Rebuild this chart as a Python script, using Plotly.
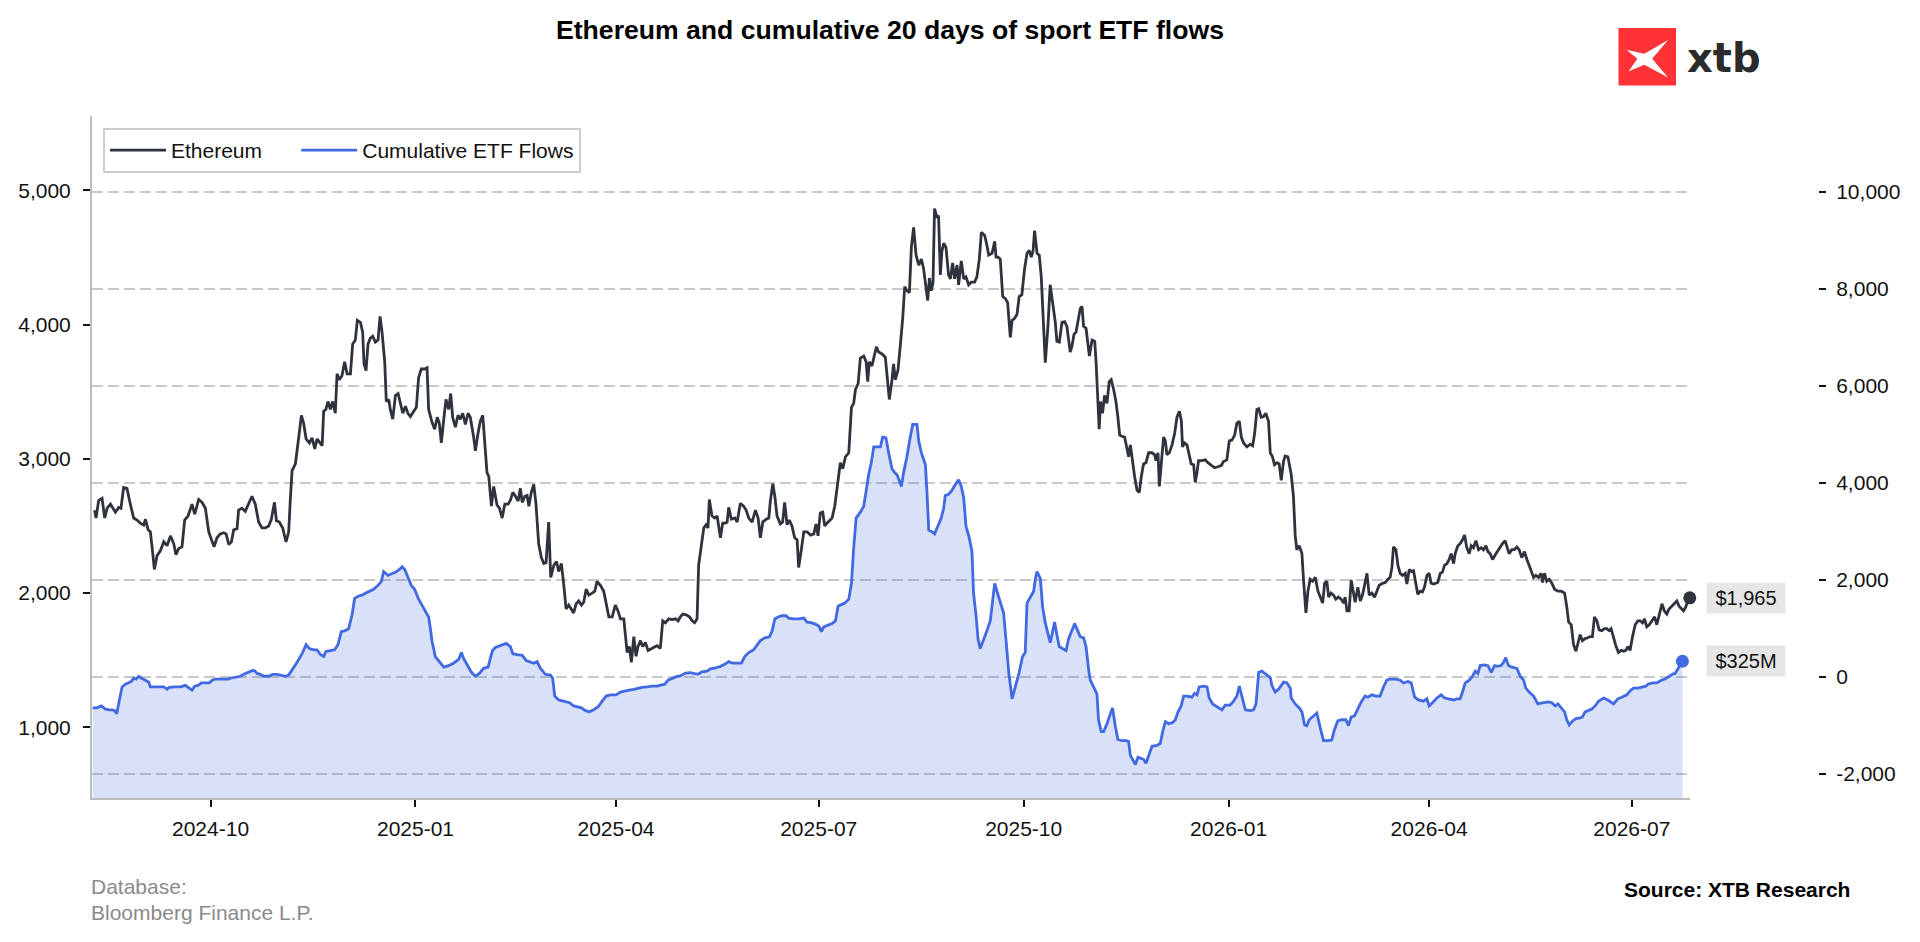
import pandas as pd
import plotly.graph_objects as go

# ---------------- data ----------------
BASE_DATE = "2024-08-08"   # day 0 of the day offsets below

eth_day = [2.0, 2.6, 3.8, 5.3, 6.5, 7.6, 9.1, 10.1, 11.3, 12.8, 13.8, 15.0, 16.5, 18.0, 19.5, 21.0, 22.5, 24.0, 24.8, 26.0,
           27.0, 27.8, 28.8, 30.0, 31.5, 33.0, 34.5, 36.0, 37.5, 38.5, 39.7, 41.2, 42.4, 43.9, 45.7, 46.9, 48.7, 50.2, 51.7, 53.2,
           54.4, 55.6, 56.9, 58.4, 59.9, 61.0, 62.2, 63.4, 64.4, 65.9, 66.6, 68.1, 69.6, 71.1, 72.6, 74.1, 75.6, 77.1, 78.6, 80.1,
           81.3, 82.7, 83.6, 84.9, 86.4, 87.9, 89.1, 89.8, 90.6, 92.1, 92.8, 93.6, 94.8, 95.8, 96.9, 98.4, 99.6, 100.8, 101.8, 103.0,
           104.1, 104.8, 105.8, 106.7, 107.8, 108.8, 110.0, 110.8, 111.8, 113.0, 114.2, 115.3, 116.8, 117.8, 119.0, 119.9, 121.3, 122.3, 122.9, 123.8,
           124.7, 125.7, 126.8, 128.0, 129.2, 130.1, 131.0, 132.2, 132.9, 134.0, 134.7, 135.8, 137.0, 138.2, 139.2, 140.3, 141.5, 142.6, 143.7, 145.2,
           146.4, 147.4, 148.6, 150.1, 151.2, 151.9, 153.4, 154.6, 155.8, 156.7, 157.6, 158.8, 159.7, 160.9, 161.8, 162.7, 163.9, 165.1, 166.1, 167.2,
           168.4, 169.6, 170.6, 172.1, 172.9, 174.1, 175.1, 176.2, 177.4, 178.1,
           178.9, 180.1, 181.1, 182.6, 183.7, 184.9, 186.1, 187.6, 188.6, 189.7, 190.9, 192.1, 193.1, 193.9, 195.1, 196.1, 196.9, 198.0, 199.1, 200.1,
           201.3, 202.5, 203.6, 204.6, 205.8, 206.7, 208.1, 209.3, 210.3, 211.5, 212.6, 213.6, 214.8, 216.0, 217.0, 218.1, 219.3, 220.5, 221.5, 222.6,
           223.8, 225.3, 226.5, 227.5, 229.0, 230.5, 231.6, 232.8, 234.3, 235.7, 236.9, 238.0, 239.5, 240.2, 241.0, 242.0, 242.9, 244.0, 245.0, 245.9,
           247.0, 248.0, 249.2, 250.4, 251.9, 253.4, 254.4, 255.9, 257.0, 258.2, 259.7, 261.2, 262.7, 263.9, 264.9, 266.0, 267.5, 269.0, 270.2, 271.3,
           272.4, 273.1, 274.3, 275.4, 276.4, 277.3, 277.9, 279.1, 280.3, 281.4, 282.9, 283.9, 285.1, 285.9, 286.6, 287.8, 289.3, 290.4, 291.8, 293.3,
           294.4, 295.6, 297.1, 298.6, 299.8, 300.8, 301.9, 303.4, 304.6, 305.3, 306.4, 307.3, 308.3, 309.8, 310.8, 311.7, 312.8, 313.8, 315.0, 316.2,
           317.3, 318.0, 319.2, 320.3, 321.8, 323.3, 324.8, 325.8, 326.7, 327.7, 328.8, 329.7, 331.2, 333.0, 334.2, 335.2, 336.7, 337.8, 339.0, 340.5,
           341.7, 342.7, 343.5, 344.7, 345.7, 347.2, 348.3, 349.0, 349.7, 350.9, 352.1, 352.9, 353.9, 355.4, 356.9, 357.7, 358.7, 359.9,
           360.6, 361.4, 362.6, 363.6, 364.7, 365.6, 366.6, 367.7, 368.6, 369.6, 370.7, 371.9, 373.1, 374.1, 375.2, 375.9, 376.7, 377.5, 378.3, 379.0,
           380.1, 380.8, 381.6, 382.3, 383.1, 384.1, 385.3, 386.1, 387.1, 388.0, 389.1, 389.8, 391.0, 392.1, 393.1, 394.3, 395.5, 397.0, 398.0, 399.1,
           400.0, 401.5, 402.5, 403.3, 404.8, 406.0, 406.6, 407.5, 408.5, 409.6, 410.8, 411.8, 413.0, 413.8, 414.9, 416.0, 417.0, 418.2, 419.4, 420.5,
           421.5, 422.4, 423.2, 423.9, 425.0, 426.0, 426.9, 427.5, 428.1, 428.7, 429.9, 430.9, 432.0, 433.2, 433.9, 435.0, 436.2, 437.4, 438.4, 439.2,
           439.9, 440.7, 441.6, 442.5, 443.4, 444.4, 445.2, 445.9, 447.0, 447.9, 448.5, 449.7, 450.9, 451.5, 452.3, 452.9, 453.5, 454.4, 455.3, 456.4,
           457.4, 458.3, 459.4, 460.4, 461.3, 462.1, 463.1, 464.3, 465.4, 466.1, 466.9, 467.9, 468.8, 469.9, 470.9, 471.8, 472.8, 473.9, 475.1, 476.6,
           477.8, 478.4, 479.3, 479.9, 480.8, 481.8, 482.6, 483.3, 484.4, 485.6, 486.8, 487.8, 488.9, 489.8, 490.3, 491.2, 492.3, 493.3, 494.2, 495.3,
           496.0, 496.8, 497.5, 499.0, 500.5, 501.7, 503.2, 504.7, 506.2, 507.7, 508.7, 510.2, 511.3, 512.5, 513.7, 514.7, 515.8, 516.7, 517.7, 519.2,
           520.7, 521.8, 522.7, 523.7, 524.5, 525.6, 526.7, 527.7, 528.9, 529.7, 530.7, 531.6, 532.7, 533.7, 534.6, 535.7, 536.4, 537.6,
           539.1, 540.1, 540.9, 541.6, 542.7, 543.9, 544.6, 545.7, 546.6, 547.6, 548.7, 549.9, 551.1, 552.1, 553.2, 554.1, 555.1, 555.9, 557.0, 558.1,
           559.1, 560.3, 561.5, 562.6, 563.3, 564.1, 565.1, 566.0, 567.1, 567.8, 569.0, 570.1, 571.1, 572.0, 573.1, 574.1, 575.3, 576.5, 577.5, 578.6,
           580.1, 581.3, 582.5, 583.5, 584.3, 585.0, 586.1, 587.0, 588.0, 589.1, 590.3, 591.0, 592.1, 593.0, 594.0, 595.0, 595.9, 597.0, 598.0, 598.9,
           600.0, 601.0, 601.9, 603.0, 604.0, 604.9, 606.0, 607.0, 607.9, 609.0, 610.0, 610.9, 612.0, 612.7, 613.9, 614.9, 616.0, 616.9, 617.9, 619.0,
           619.9, 620.9, 622.0, 623.2, 624.4, 625.4, 626.5, 627.4, 628.4, 629.5, 630.7, 631.8, 632.9, 633.9, 635.1, 635.9, 636.9, 638.1, 639.3, 640.4,
           641.4, 642.6, 643.8, 644.9, 645.9, 646.8, 647.9, 648.9, 650.1, 651.3, 651.9, 652.8, 653.8, 654.9, 656.1, 657.3, 658.8, 660.3, 661.8, 662.8,
           663.6, 664.8, 665.8, 666.9, 667.8, 668.8, 669.8, 671.0, 672.2, 673.3, 674.3, 675.2, 676.3, 677.3, 678.5, 679.7, 680.8, 681.8, 682.7, 683.8,
           684.8, 686.0, 687.2, 688.3, 689.3, 690.2, 691.2, 692.3, 693.5, 694.7, 695.7, 696.8, 697.7, 698.7, 699.8, 701.0, 702.2, 703.2, 704.3, 705.5,
           706.6, 707.7, 708.7, 709.9, 711.1, 712.2, 713.2, 714.4, 715.2, 716.2, 717.1, 718.0]

eth_price = [2618, 2559, 2691, 2706, 2559, 2632, 2662, 2632, 2603, 2638, 2632, 2786, 2780, 2662, 2559, 2544, 2521, 2506, 2550, 2471,
             2456, 2338, 2176, 2279, 2315, 2382, 2353, 2426, 2367, 2285, 2332, 2344, 2544, 2574, 2662, 2588, 2697, 2676, 2632, 2456,
             2397, 2344, 2412, 2441, 2450, 2441, 2362, 2382, 2471, 2479, 2618, 2632, 2609, 2662, 2721, 2662, 2529, 2485, 2485, 2500,
             2550, 2676, 2538, 2529, 2485, 2382, 2456, 2691, 2912, 2962, 3074, 3162, 3324, 3265, 3148, 3118, 3156, 3074, 3148, 3118,
             3098, 3354, 3368, 3427, 3368, 3427, 3339, 3633, 3589, 3619, 3722, 3633, 3633, 3854, 3884, 4031, 4016, 3943, 3707, 3657,
             3854, 3898, 3913, 3869, 3884, 4060, 3943, 3722, 3427, 3442, 3368, 3295, 3472, 3486, 3413, 3339, 3392, 3339, 3315, 3354,
             3383, 3604, 3669, 3669, 3678, 3368, 3274, 3221, 3310, 3265, 3118, 3310, 3442, 3368, 3486, 3310, 3236, 3324, 3295, 3339,
             3257, 3339, 3310, 3162, 3059, 3192, 3280, 3324, 3015, 2897,
             2868, 2647, 2794, 2656, 2632, 2559, 2662, 2662, 2691, 2750, 2721, 2685, 2780, 2676, 2721, 2727, 2647, 2750, 2809, 2662,
             2367, 2264, 2220, 2226, 2529, 2117, 2206, 2235, 2161, 2220, 2058, 1882, 1911, 1882, 1852, 1920, 1941, 1911, 1932, 2029,
             1985, 2000, 2014, 2088, 2058, 2014, 1911, 1823, 1823, 1911, 1867, 1808, 1808, 1661, 1558, 1602, 1484, 1676, 1529, 1602,
             1646, 1602, 1632, 1573, 1588, 1602, 1608, 1588, 1793, 1779, 1808, 1802, 1808, 1793, 1823, 1844, 1838, 1823, 1793, 1779,
             1808, 2206, 2367, 2485, 2509, 2485, 2697, 2574, 2559, 2574, 2412, 2521, 2521, 2529, 2638, 2550, 2559, 2529, 2668, 2647,
             2618, 2559, 2529, 2618, 2559, 2412, 2529, 2550, 2559, 2685, 2815, 2721, 2574, 2515, 2529, 2676, 2509, 2544, 2500, 2412,
             2397, 2191, 2323, 2456, 2456, 2432, 2441, 2515, 2426, 2597, 2603, 2500, 2529, 2559, 2647, 2794, 2971, 2927, 3015, 3045,
             3383, 3413, 3516, 3560, 3751, 3766, 3722, 3575, 3722, 3692, 3781, 3834, 3795, 3781, 3757, 3604, 3442, 3589,
             3707, 3589, 3663, 3840, 4046, 4281, 4252, 4237, 4576, 4723, 4517, 4443, 4487, 4414, 4266, 4178, 4346, 4252, 4311, 4864,
             4796, 4811, 4369, 4546, 4605, 4576, 4369, 4340, 4458, 4340, 4443, 4296, 4473, 4340, 4355, 4296, 4316, 4316, 4355, 4487,
             4687, 4664, 4590, 4517, 4531, 4620, 4502, 4502, 4487, 4208, 4193, 4163, 3904, 4031, 4046, 4075, 4208, 4222, 4414, 4531,
             4552, 4502, 4546, 4699, 4531, 4517, 4355, 4104, 3840, 3716, 3987, 4296, 4163, 4016, 3875, 3869, 4016, 4022, 3987, 3884,
             3795, 3840, 3928, 3943, 4031, 4119, 4134, 3987, 3972, 3869, 3766, 3884, 3875, 3722, 3398, 3221, 3427, 3339, 3472, 3413,
             3575, 3589, 3516, 3427, 3310, 3177, 3168, 3162, 3074, 3015, 3104, 2956, 2868, 2765, 2750, 2868, 2962, 2971, 3045, 3045,
             3030, 2986, 3045, 2794, 2956, 3162, 3133, 3030, 3045, 3104, 3192, 3310, 3354, 3280, 3089, 3118, 3104, 3030, 2962, 2956,
             2824, 2897, 2986, 2986, 2992, 2971, 2950, 2933, 2941, 2950, 2980, 2992, 3133, 3139, 3177, 3265, 3280, 3162, 3118, 3089,
             3109, 3098, 3192, 3368, 3374, 3310, 3315, 3339, 3280, 3045, 3015, 2956, 2971, 2962, 2839, 2986, 3021, 3015,
             2883, 2721, 2426, 2323, 2353, 2294, 2103, 1852, 2014, 2103, 2088, 2117, 2014, 1970, 1926, 2073, 2088, 1970, 2000, 1985,
             1955, 1970, 1955, 1926, 1970, 1867, 1867, 2097, 2000, 1932, 2044, 1941, 1985, 2058, 2147, 1985, 2000, 1970, 2014, 2058,
             2073, 2079, 2103, 2117, 2191, 2344, 2323, 2206, 2147, 2132, 2147, 2067, 2176, 2161, 2167, 2073, 1991, 2014, 2008, 2044,
             2132, 2147, 2073, 2067, 2073, 2079, 2147, 2156, 2206, 2220, 2250, 2294, 2220, 2294, 2353, 2368, 2397, 2432, 2338, 2294,
             2353, 2338, 2391, 2323, 2338, 2323, 2353, 2309, 2294, 2250, 2285, 2315, 2338, 2368, 2391, 2353, 2294, 2323, 2323, 2344,
             2323, 2264, 2309, 2250, 2206, 2176, 2117, 2132, 2117, 2147, 2079, 2147, 2088, 2103, 2073, 2029, 2014, 2014, 2000, 1897,
             1785, 1764, 1617, 1567, 1632, 1690, 1646, 1661, 1667, 1676, 1676, 1823, 1793, 1726, 1720, 1735, 1735, 1720, 1735, 1661,
             1608, 1558, 1573, 1567, 1573, 1602, 1573, 1676, 1764, 1793, 1793, 1779, 1808, 1749, 1764, 1793, 1823, 1764, 1844, 1920,
             1867, 1844, 1882, 1903, 1926, 1941, 1903, 1882, 1867, 1897, 1940, 1965]

flow_day = [1.1, 3.1, 5.0, 6.8, 8.6, 10.1, 11.0, 11.9, 13.1, 14.3, 15.8, 17.3, 18.5, 19.5, 20.6, 21.8, 23.0, 24.8, 26.3, 27.0,
            28.5, 30.7, 33.0, 34.5, 35.5, 38.2, 40.5, 42.7, 44.2, 45.7, 46.9, 48.4, 49.9, 51.7, 53.5, 54.7, 56.2, 58.4, 60.7, 61.9,
            62.9, 65.2, 67.4, 68.9, 70.8, 72.9, 73.8, 74.9, 76.4, 77.9, 80.1, 81.9, 83.9, 85.4, 87.6, 89.1, 90.6, 92.8, 95.1, 96.9,
            98.4, 100.3, 101.8, 103.3, 104.8, 105.8, 107.8, 109.7, 111.2, 112.7, 114.2, 116.0, 117.5, 118.7, 120.5, 122.0, 123.5, 124.7, 125.7, 127.2,
            129.2, 130.7, 131.7, 133.7, 135.5, 137.0, 138.8, 140.0, 141.2, 142.6, 144.1, 145.6, 147.4, 148.9, 150.4, 151.9, 152.7, 153.4, 154.9, 156.4,
            158.7, 160.9, 163.1, 165.4, 166.6, 167.6, 169.1, 171.1, 172.9, 174.7, 176.6, 178.6, 179.6, 180.6,
            181.9, 184.1, 186.7, 188.6, 189.7, 191.6, 193.9, 195.7, 197.6, 199.1, 200.6, 202.1, 204.3, 206.6, 207.6, 208.5, 210.3, 212.6, 215.1, 217.0,
            218.1, 220.5, 222.3, 224.1, 226.0, 228.0, 229.8, 231.6, 233.5, 236.0, 238.0, 239.9, 242.0, 244.0, 245.9, 247.7, 250.0, 252.2, 254.4, 256.4,
            257.9, 259.4, 261.2, 263.0, 264.9, 267.2, 269.4, 271.3, 272.8, 274.6, 276.9, 278.4, 280.6, 282.9, 284.8, 286.6, 288.4, 290.8, 292.3, 293.8,
            295.6, 297.8, 299.3, 300.8, 302.8, 304.9, 306.1, 307.3, 308.8, 310.5, 312.3, 313.5, 315.8, 318.0, 320.3, 321.8, 324.0, 326.3, 327.3, 328.2,
            329.3, 331.2, 333.0, 334.5, 335.7, 336.7, 338.7, 340.5, 341.7, 342.7, 343.8, 345.7, 347.2, 348.2, 349.4, 350.6, 351.7, 353.2, 354.7, 355.7,
            357.2, 358.4, 359.9,
            361.1, 362.1, 363.2, 364.1, 365.1, 366.6, 368.1, 369.2, 371.1, 371.9, 373.1, 374.9, 375.6, 376.4, 377.5, 379.0, 380.5, 382.0, 383.1, 383.8,
            385.3, 386.8, 388.3, 389.8, 391.0, 392.1, 393.1, 394.6, 395.8, 396.5, 397.6, 398.5, 399.5, 401.0, 402.5, 404.0, 405.1, 406.0, 407.0, 408.5,
            410.0, 411.1, 412.3, 413.8, 415.2, 417.0, 418.5, 419.7, 420.5, 422.0, 423.5, 424.2, 425.0, 426.5, 427.5, 428.7, 429.9, 430.9, 431.7, 432.9,
            433.9, 435.0, 436.5, 438.0, 439.2, 440.7, 441.9, 442.9, 444.4, 445.9, 447.0, 448.2, 448.9, 450.4, 451.9, 452.6, 453.8, 454.9, 456.4, 457.9,
            458.9, 460.1, 461.3, 463.1, 464.9, 466.1, 466.9, 467.9, 469.1, 470.3, 471.8, 472.8, 473.9, 475.1, 476.6, 478.8, 480.3, 481.4, 482.6, 484.1,
            485.9, 487.1, 488.3, 489.7, 490.8, 492.3, 494.5, 495.7, 496.8, 497.8, 499.8, 501.3, 502.3, 503.8, 505.8, 508.0, 509.5, 511.7, 513.2, 514.7,
            515.8, 517.0, 518.5, 520.7, 522.2, 523.3, 524.5, 525.9, 527.4, 529.7, 530.4, 531.9, 533.4, 535.7, 537.2, 538.7,
            539.1, 540.9, 542.7, 543.9, 545.1, 546.1, 547.2, 549.1, 550.6, 552.1, 553.6, 555.6, 557.3, 558.5, 560.0, 561.8, 563.6, 564.8, 566.0, 567.5,
            569.0, 570.5, 572.3, 573.5, 575.3, 577.1, 579.0, 580.5, 582.0, 583.5, 586.1, 588.0, 589.5, 591.5, 593.0, 594.5, 596.2, 598.5, 600.0, 601.0,
            602.5, 604.5, 606.4, 607.9, 609.7, 612.0, 613.4, 614.9, 616.0, 617.2, 619.0, 620.5, 621.7, 622.9, 623.9, 625.9, 627.4, 628.9, 630.4, 631.8,
            633.3, 634.4, 635.4, 636.6, 638.1, 640.4, 641.9, 643.4, 644.4, 645.9, 647.9, 649.8, 651.9, 654.3, 656.1, 657.6, 658.8, 660.3, 661.8, 662.8,
            663.9, 665.4, 666.9, 668.8, 669.8, 671.0, 672.5, 674.0, 675.5, 677.0, 679.3, 681.2, 683.8, 685.7, 687.5, 689.7, 691.2, 692.7, 694.7, 696.8,
            698.3, 699.2, 701.3, 703.2, 705.2, 706.9, 708.7, 710.2, 711.4, 712.9, 714.7]

flow_value = [-637, -637, -597, -662, -678, -678, -694, -760, -474, -205, -148, -107, -91, -26, -42, 15, -26, -66, -107, -205,
              -205, -205, -205, -254, -213, -205, -205, -172, -213, -270, -189, -172, -123, -123, -123, -66, -42, -42, -42, -42,
              -26, -9, 15, 56, 97, 137, 130, 73, 56, 15, 15, 56, 56, 40, 15, 40, 137, 300, 480, 667,
              585, 561, 561, 463, 422, 528, 545, 561, 667, 936, 952, 993, 1279, 1621, 1670, 1686, 1727, 1752, 1768, 1809,
              1890, 1972, 2175, 2094, 2135, 2159, 2216, 2273, 2216, 2053, 1890, 1809, 1605, 1482, 1344, 1238, 993, 749, 422, 341,
              202, 235, 284, 365, 504, 382, 260, 97, 15, 73, 178, 202, 382, 545,
              610, 643, 692, 627, 480, 463, 447, 341, 317, 284, 317, 178, 56, 40, -26, -393, -474, -499, -531, -597,
              -613, -637, -694, -719, -678, -613, -499, -393, -368, -368, -311, -287, -270, -254, -230, -213, -205, -189, -189, -172,
              -148, -66, -26, 7, 23, 80, 88, 73, 56, 105, 121, 170, 186, 219, 260, 317, 284, 284, 284, 422,
              504, 561, 667, 749, 806, 830, 952, 1197, 1238, 1263, 1263, 1214, 1197, 1197, 1214, 1132, 1116, 1075, 1034, 936,
              1034, 1075, 1100, 1157, 1458, 1482, 1523, 1605, 1931, 2665, 3276, 3399, 3521, 3806, 4173, 4418, 4744, 4744, 4744, 4947,
              4931, 4621, 4295,
              4214, 4173, 4051, 3928, 4214, 4540, 4948, 5208, 5208, 4866, 4621, 4377, 3806, 3031, 3007, 2950, 3113, 3276, 3480, 3741,
              3765, 3847, 3969, 4067, 3928, 3684, 3113, 2868, 2583, 1727, 1279, 790, 585, 749, 952, 1157, 1523, 1931, 1768, 1564,
              1319, 749, 97, -450, -230, 97, 422, 504, 1523, 1645, 1768, 2012, 2175, 2029, 1442, 1116, 871, 708, 871, 1132,
              871, 627, 585, 545, 790, 952, 1100, 993, 830, 806, 627, 137, -66, -205, -352, -882, -1126, -1126, -963, -760,
              -637, -1004, -1289, -1314, -1314, -1330, -1616, -1697, -1803, -1657, -1673, -1697, -1779, -1616, -1428, -1412, -1371, -1126, -922, -963,
              -939, -882, -719, -597, -393, -393, -417, -336, -368, -205, -189, -205, -433, -556, -613, -678, -580, -580, -499, -393,
              -189, -433, -678, -694, -678, -556, 97, 121, 73, -9, -172, -311, -254, -107, -123, -230,
              -433, -556, -637, -719, -988, -1004, -882, -800, -743, -1045, -1314, -1314, -1298, -1085, -906, -882, -882, -1004, -825, -800,
              -662, -515, -393, -417, -368, -393, -393, -205, -66, -42, -42, -66, -123, -91, -123, -417, -474, -499, -450, -597,
              -531, -433, -368, -433, -450, -474, -450, -450, -311, -123, -66, 15, 121, 73, 235, 251, 235, 97, 235, 219,
              235, 300, 398, 235, 202, 178, 15, -66, -230, -311, -393, -556, -531, -515, -531, -597, -556, -637, -719, -882,
              -988, -906, -857, -841, -825, -719, -694, -662, -597, -499, -433, -474, -556, -450, -417, -368, -287, -230, -230, -205,
              -189, -148, -123, -123, -66, -42, 15, 56, 73, 202, 325]

x_tick_dates = ["2024-10-01", "2025-01-01", "2025-04-01", "2025-07-01",
                "2025-10-01", "2026-01-01", "2026-04-01", "2026-07-01"]
x_tick_labels = ["2024-10", "2025-01", "2025-04", "2025-07",
                 "2025-10", "2026-01", "2026-04", "2026-07"]
left_tick_values = [1000, 2000, 3000, 4000, 5000]
left_tick_labels = ["1,000", "2,000", "3,000", "4,000", "5,000"]
right_tick_values = [-2000, 0, 2000, 4000, 6000, 8000, 10000]
right_tick_labels = ["-2,000", "0", "2,000", "4,000", "6,000", "8,000", "10,000"]

eth_name = "Ethereum"
flow_name = "Cumulative ETF Flows"
eth_label = "$1,965"
flow_label = "$325M"

# ---------------- styling / layout constants ----------------
W, H = 1920, 942
ML, MR, MT, MB = 92, 102, 116, 144
PW = W - ML - MR
PH = H - MT - MB
PLOT_RIGHT = 1690
X_DOMAIN_END = (PLOT_RIGHT - ML) / PW
LEFT_RANGE = [474, 5553]
RIGHT_RANGE = [-2495, 11567]
FILL_FLOOR = -4000
ETH_COLOR = "#2F333E"
FLOW_COLOR = "#4169E1"
FILL_COLOR = "rgba(65,105,225,0.2)"
FONT = "Liberation Sans, Arial, sans-serif"
TICK_FONT = dict(family=FONT, size=21, color="#111111")
LEGEND_PAD = "\u00a0" * 5   # extra spacing after the first legend entry


def px_x(px):
    return (px - ML) / PW


def px_y(py):
    return (MT + PH - py) / PH


base = pd.Timestamp(BASE_DATE)
eth_dates = base + pd.to_timedelta(eth_day, unit="D")
flow_dates = base + pd.to_timedelta(flow_day, unit="D")
x_start = base + pd.to_timedelta(0.8, unit="D")
x_end = base + pd.to_timedelta(718.1, unit="D")

fig = go.Figure()

# fill under flows down to the bottom of the plot
fig.add_trace(go.Scatter(x=flow_dates, y=[FILL_FLOOR] * len(flow_dates), yaxis="y2",
                         mode="lines", line=dict(width=0), showlegend=False, hoverinfo="skip"))
fig.add_trace(go.Scatter(x=flow_dates, y=flow_value, yaxis="y2", mode="lines",
                         line=dict(width=0), fill="tonexty", fillcolor=FILL_COLOR,
                         showlegend=False, hoverinfo="skip"))
fig.add_trace(go.Scatter(x=flow_dates, y=flow_value, yaxis="y2", mode="lines",
                         line=dict(color=FLOW_COLOR, width=2.8), name=flow_name,
                         legendrank=2))
fig.add_trace(go.Scatter(x=eth_dates, y=eth_price, yaxis="y", mode="lines",
                         line=dict(color=ETH_COLOR, width=2.8), name=eth_name + LEGEND_PAD,
                         legendrank=1))

# end-point dots
fig.add_trace(go.Scatter(x=[flow_dates[-1]], y=[flow_value[-1]], yaxis="y2", mode="markers",
                         marker=dict(color=FLOW_COLOR, size=13), showlegend=False, cliponaxis=False))
fig.add_trace(go.Scatter(x=[eth_dates[-1]], y=[eth_price[-1]], yaxis="y", mode="markers",
                         marker=dict(color=ETH_COLOR, size=13), showlegend=False, cliponaxis=False))

annotations = [
    dict(x=eth_dates[-1], y=eth_price[-1], xref="x", yref="y", text=eth_label, showarrow=False,
         xanchor="left", yanchor="middle", xshift=16, bgcolor="#E6E6E6", borderpad=4,
         width=70, height=22, font=dict(family=FONT, size=20, color="#111111")),
    dict(x=eth_dates[-1], y=flow_value[-1], xref="x", yref="y2", text=flow_label, showarrow=False,
         xanchor="left", yanchor="middle", xshift=16, bgcolor="#E6E6E6", borderpad=4,
         width=70, height=22, font=dict(family=FONT, size=20, color="#111111")),
    dict(x=px_x(1852), y=px_y(890), xref="paper", yref="paper", text="<b>Source: XTB Research</b>",
         showarrow=False, xanchor="right", yanchor="middle",
         font=dict(family=FONT, size=21, color="#000000")),
    dict(x=px_x(89), y=px_y(887), xref="paper", yref="paper", text="Database:",
         showarrow=False, xanchor="left", yanchor="middle",
         font=dict(family=FONT, size=21, color="#8A8A8A")),
    dict(x=px_x(89), y=px_y(912), xref="paper", yref="paper", text="Bloomberg Finance L.P.",
         showarrow=False, xanchor="left", yanchor="middle",
         font=dict(family=FONT, size=21, color="#8A8A8A")),
    dict(x=px_x(1724), y=px_y(58), xref="paper", yref="paper", text="<b>xtb</b>",
         showarrow=False, xanchor="center", yanchor="middle",
         font=dict(family="DejaVu Sans, sans-serif", size=40, color="#2B2B2B")),
]

# logo: red square with white stylised x
logo_x0, logo_y0, logo_s = 1618.5, 28, 57.5
pts = [(8, 22), (26, 26), (50, 12), (34, 31), (50, 50), (26, 37), (10, 44), (19, 31)]
path = "M " + " L ".join(f"{px_x(logo_x0 + a * logo_s / 58):.5f},{px_y(logo_y0 + b * logo_s / 58):.5f}"
                         for a, b in pts) + " Z"
shapes = [
    dict(type="rect", xref="paper", yref="paper", x0=px_x(logo_x0), x1=px_x(logo_x0 + logo_s),
         y0=px_y(logo_y0 + logo_s), y1=px_y(logo_y0), fillcolor="#FF3336", line=dict(width=0), layer="above"),
    dict(type="path", xref="paper", yref="paper", path=path, fillcolor="#FFFFFF",
         line=dict(width=0), layer="above"),
]

fig.update_layout(
    width=W, height=H,
    margin=dict(l=ML, r=MR, t=MT, b=MB, pad=0),
    paper_bgcolor="white", plot_bgcolor="white",
    title=dict(text="<b>Ethereum and cumulative 20 days of sport ETF flows</b>",
               x=890 / W, xref="container", xanchor="center",
               y=1 - 30 / H, yref="container", yanchor="middle",
               font=dict(family=FONT, size=26.6, color="#000000")),
    showlegend=True,
    legend=dict(orientation="h", x=px_x(103), y=px_y(128), xanchor="left", yanchor="top",
                bgcolor="white", bordercolor="#CCCCCC", borderwidth=2,
                font=dict(family=FONT, size=21, color="#111111"),
                itemwidth=56, traceorder="normal"),
    xaxis=dict(domain=[0, X_DOMAIN_END], range=[x_start, x_end], type="date",
               tickvals=x_tick_dates, ticktext=x_tick_labels,
               showgrid=False, zeroline=False, showline=True, linecolor="#BDBDBD", linewidth=2,
               ticks="outside", ticklen=7, tickwidth=1.6, tickcolor="#111111",
               tickfont=TICK_FONT, ticklabelstandoff=4),
    yaxis=dict(range=LEFT_RANGE, tickvals=left_tick_values, ticktext=left_tick_labels,
               showgrid=False, zeroline=False, showline=True, linecolor="#BDBDBD", linewidth=2,
               ticks="outside", ticklen=7, tickwidth=1.6, tickcolor="#111111",
               tickfont=TICK_FONT, ticklabelstandoff=8),
    yaxis2=dict(range=RIGHT_RANGE, overlaying="y", side="right", anchor="free", position=1.0,
                tickvals=right_tick_values, ticktext=right_tick_labels,
                showgrid=True, gridcolor="#C8C8C8", gridwidth=1.6, griddash="11px,5px",
                zeroline=False, showline=False,
                ticks="outside", ticklen=7, tickwidth=1.6, tickcolor="#111111",
                tickfont=TICK_FONT, ticklabelstandoff=6),
    annotations=annotations,
    shapes=shapes,
    hovermode=False,
)

fig.write_html("out.html", include_plotlyjs=True,
               post_script="document.body.style.margin='0';document.body.style.overflow='hidden';")
